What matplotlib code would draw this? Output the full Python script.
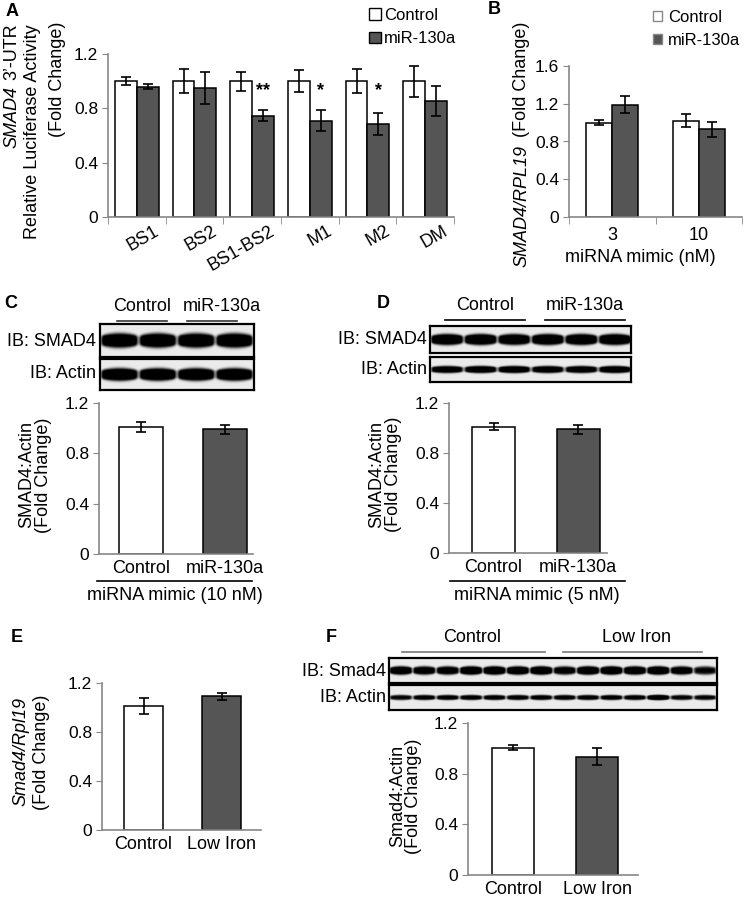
# Figura de 6 paneles: luciferasa, qPCR y western blots (SMAD4 / miR-130a)
import numpy as np
import matplotlib
matplotlib.use("Agg")
import matplotlib.pyplot as plt
from matplotlib.patches import Patch
from matplotlib.lines import Line2D
from matplotlib.transforms import ScaledTranslation

plt.rcParams['font.family'] = ['Liberation Sans', 'DejaVu Sans']

# ---------------- datos ----------------
# Panel A
a_grupos = ['BS1', 'BS2', 'BS1-BS2', 'M1', 'M2', 'DM']
a_control = [1.0, 1.0, 1.0, 1.0, 1.0, 1.0]
a_control_err = [0.03, 0.09, 0.07, 0.08, 0.09, 0.115]
a_mir = [0.96, 0.95, 0.745, 0.71, 0.685, 0.855]
a_mir_err = [0.02, 0.12, 0.04, 0.08, 0.08, 0.11]
a_estrellas = ['', '', '**', '*', '*', '']

# Panel B
b_dosis = ['3', '10']
b_control = [1.0, 1.02]
b_control_err = [0.03, 0.07]
b_mir = [1.19, 0.93]
b_mir_err = [0.09, 0.08]

# Paneles C-F (dos barras cada uno)
c_nombres = ['Control', 'miR-130a']
c_valores = [1.01, 0.99]
c_err = [0.04, 0.033]

d_nombres = ['Control', 'miR-130a']
d_valores = [1.01, 0.99]
d_err = [0.027, 0.035]

e_nombres = ['Control', 'Low Iron']
e_valores = [1.015, 1.09]
e_err = [0.065, 0.03]

f_nombres = ['Control', 'Low Iron']
f_valores = [1.005, 0.935]
f_err = [0.022, 0.07]

# Intensidad relativa de cada carril en los blots
c_smad4 = [1.0, 1.0, 1.0, 1.0]
c_actina = [1.0, 1.0, 1.0, 1.0]
d_smad4 = [1.0, 1.0, 0.95, 1.0, 1.0, 1.0]
d_actina = [0.85, 0.9, 0.9, 0.85, 0.85, 0.9]
f_smad4 = [0.95, 0.85, 0.85, 1.0, 1.0, 0.95, 1.0, 0.8, 1.0, 1.0, 0.95, 1.0, 0.85, 0.7]
f_actina = [0.7, 0.75, 0.75, 0.75, 0.75, 0.75, 0.75, 0.75, 0.75, 0.75, 0.75, 1.0, 0.7, 0.7]

# ---------------- estilo ----------------
W, H = 745, 900
GRIS = '#888888'
OSCURO = '#555555'
FS = 13        # textos
FT = 12.5      # numeros de los ejes
FL = 12        # leyendas

fig = plt.figure(figsize=(W / 100, H / 100), dpi=100)


def caja(l, t, r, b):
    # rectangulo en pixeles -> fracciones de figura
    return [l / W, 1 - b / H, (r - l) / W, (b - t) / H]


def texto(x, y, s, **kw):
    kw.setdefault('ha', 'center')
    kw.setdefault('va', 'center')
    kw.setdefault('fontsize', FS)
    fig.text(x / W, 1 - y / H, s, **kw)


def vertical_mixto(x, y, cursiva, normal, hueco=2):
    # texto vertical: parte en cursiva (abajo) y parte normal (arriba), unidas en y
    texto(x, y + hueco, cursiva, rotation=90, rotation_mode='anchor', ha='right',
          fontstyle='italic')
    texto(x, y - hueco, normal, rotation=90, rotation_mode='anchor', ha='left')


def linea(x1, x2, y, color='black', lw=1.2):
    fig.add_artist(Line2D([x1 / W, x2 / W], [1 - y / H, 1 - y / H],
                          transform=fig.transFigure, color=color, lw=lw))


def ejes_barras(rect, ylim, yticks):
    ax = fig.add_axes(rect)
    ax.spines[['top', 'right']].set_visible(False)
    for s in ['left', 'bottom']:
        ax.spines[s].set_color(GRIS)
        ax.spines[s].set_linewidth(1.2)
    ax.set_ylim(*ylim)
    ax.set_yticks(yticks)
    ax.set_yticklabels([f'{t:g}' for t in yticks])
    ax.tick_params(axis='y', length=4, color=GRIS, labelsize=FT, pad=3)
    ax.tick_params(axis='x', length=0, labelsize=FS, pad=4)
    return ax


def errores(ax, x, v, e):
    ax.errorbar(x, v, yerr=e, fmt='none', ecolor='black', elinewidth=1.2,
                capsize=3.5, capthick=1.2, zorder=3)


def blot(rect, carriles, grosor):
    ax = fig.add_axes(rect)
    n = len(carriles)
    yy = np.linspace(-1, 1, 80)[:, None]
    xx = np.linspace(0, n, 60 * n)[None, :]
    dens = np.zeros((80, 60 * n))
    for i, v in enumerate(carriles):
        dx = (xx - (i + 0.5)) / 0.5
        perfil = 1 / (1 + np.exp((np.abs(dx) - 0.92) / 0.05))
        g = grosor * (1 - 0.35 * dx ** 2).clip(0.3, 1)
        dens += v * perfil * np.exp(-(yy / g) ** 4)
    img = np.clip(0.92 - 1.3 * dens, 0, 1)
    ax.imshow(img, cmap='gray', vmin=0, vmax=1, aspect='auto',
              extent=[0, n, 0, 1], interpolation='bilinear')
    ax.set_xticks([])
    ax.set_yticks([])
    for s in ax.spines.values():
        s.set_linewidth(1.6)
        s.set_color('black')
    return ax


def dos_barras(rect, xlim, nombres, valores, err, ancho):
    ax = ejes_barras(rect, (0, 1.2), [0, 0.4, 0.8, 1.2])
    x = np.arange(len(valores))
    ax.bar(x, valores, ancho, color=['white', OSCURO], edgecolor='black', linewidth=1.1)
    errores(ax, x, valores, err)
    ax.set_xlim(*xlim)
    ax.set_xticks(x)
    ax.set_xticklabels(nombres)
    return ax


# ---------------- Panel A ----------------
axA = ejes_barras(caja(108, 54, 454, 217), (0, 1.2), [0, 0.4, 0.8, 1.2])
xa = np.arange(len(a_grupos))
axA.bar(xa - 0.19, a_control, 0.38, color='white', edgecolor='black', linewidth=1.1)
axA.bar(xa + 0.19, a_mir, 0.38, color=OSCURO, edgecolor='black', linewidth=1.1)
errores(axA, xa - 0.19, a_control, a_control_err)
errores(axA, xa + 0.19, a_mir, a_mir_err)
for i, s in enumerate(a_estrellas):
    if s:
        axA.text(xa[i] + 0.19, 0.93, s, ha='center', va='center', fontsize=13, fontweight='bold')
axA.set_xlim(-0.5, len(a_grupos) - 0.5)
axA.set_xticks(xa)
etiquetas = axA.set_xticklabels(a_grupos, rotation=30, ha='right', rotation_mode='anchor')
for et in etiquetas:
    et.set_transform(et.get_transform() + ScaledTranslation(0.17, 0, fig.dpi_scale_trans))
axA.set_xticks(np.arange(-0.5, len(a_grupos), 1), minor=True)
axA.tick_params(axis='x', which='minor', length=5, color=GRIS)
fig.legend(handles=[Patch(fc='white', ec='black'), Patch(fc=OSCURO, ec='black')],
           labels=['Control', 'miR-130a'], loc='upper left',
           bbox_to_anchor=(369 / W, 1 - 8 / H), frameon=False, fontsize=FL,
           handlelength=0.7, handleheight=0.7, handletextpad=0.2,
           labelspacing=0.5, borderpad=0, borderaxespad=0)
vertical_mixto(12, 83, 'SMAD4', '3’-UTR', hueco=3)
texto(33, 132, 'Relative Luciferase Activity', rotation=90)
texto(57, 79, '(Fold Change)', rotation=90)
texto(12, 11, 'A', fontsize=13, fontweight='bold')

# ---------------- Panel B ----------------
axB = ejes_barras(caja(569, 66, 742, 217), (0, 1.6), [0, 0.4, 0.8, 1.2, 1.6])
xb = np.arange(len(b_dosis))
axB.bar(xb - 0.15, b_control, 0.3, color='white', edgecolor='black', linewidth=1.1)
axB.bar(xb + 0.15, b_mir, 0.3, color=OSCURO, edgecolor='black', linewidth=1.1)
errores(axB, xb - 0.15, b_control, b_control_err)
errores(axB, xb + 0.15, b_mir, b_mir_err)
axB.set_xlim(-0.5, 1.5)
axB.set_xticks(xb)
axB.set_xticklabels(b_dosis)
axB.tick_params(axis='x', pad=7)
axB.set_xticks([-0.5, 0.5, 1.5], minor=True)
axB.tick_params(axis='x', which='minor', length=5, color=GRIS)
fig.legend(handles=[Patch(fc='white', ec=GRIS), Patch(fc=OSCURO, ec=GRIS)],
           labels=['Control', 'miR-130a'], loc='upper left',
           bbox_to_anchor=(653 / W, 1 - 10 / H), frameon=False, fontsize=FL,
           handlelength=0.55, handleheight=0.55, handletextpad=0.35,
           labelspacing=0.5, borderpad=0, borderaxespad=0)
vertical_mixto(522, 141, 'SMAD4/RPL19', '(Fold Change)', hueco=4)
texto(640, 258, 'miRNA mimic (nM)')
texto(494, 10, 'B', fontsize=13, fontweight='bold')

# ---------------- Panel C ----------------
blot(caja(100, 324, 254, 357), c_smad4, 0.45)
blot(caja(100, 359, 254, 390), c_actina, 0.42)
texto(96, 341, 'IB: SMAD4', ha='right')
texto(96, 373, 'IB: Actin', ha='right')
texto(142, 306, 'Control')
texto(222, 306, 'miR-130a')
linea(117, 167, 321, color='#333333')
linea(187, 237, 321, color='#333333')
dos_barras(caja(99, 403, 253, 554), (-0.5, 1.33), c_nombres, c_valores, c_err, 0.52)
linea(97, 252, 581)
texto(175, 596, 'miRNA mimic (10 nM)')
texto(27, 475, 'SMAD4:Actin', rotation=90)
texto(43, 475, '(Fold Change)', rotation=90)
texto(11, 303, 'C', fontsize=13, fontweight='bold')

# ---------------- Panel D ----------------
blot(caja(430, 326, 631, 353), d_smad4, 0.42)
blot(caja(430, 357, 631, 382), d_actina, 0.3)
texto(427, 340, 'IB: SMAD4', ha='right')
texto(427, 370, 'IB: Actin', ha='right')
texto(485, 305, 'Control')
texto(585, 305, 'miR-130a')
linea(445, 525, 320)
linea(545, 625, 320)
dos_barras(caja(449, 403, 607, 553), (-0.527, 1.34), d_nombres, d_valores, d_err, 0.51)
linea(450, 625, 581)
texto(537, 595, 'miRNA mimic (5 nM)')
texto(377, 474, 'SMAD4:Actin', rotation=90)
texto(394, 474, '(Fold Change)', rotation=90)
texto(383, 303, 'D', fontsize=13, fontweight='bold')

# ---------------- Panel E ----------------
dos_barras(caja(102, 683, 261, 830), (-0.53, 1.5), e_nombres, e_valores, e_err, 0.5)
texto(21, 752, 'Smad4/Rpl19', rotation=90, fontstyle='italic')
texto(42, 752, '(Fold Change)', rotation=90)
texto(17, 637, 'E', fontsize=13, fontweight='bold')

# ---------------- Panel F ----------------
blot(caja(389, 658, 717, 683), f_smad4, 0.35)
blot(caja(389, 685, 717, 710), f_actina, 0.22)
texto(386, 671, 'IB: Smad4', ha='right')
texto(386, 698, 'IB: Actin', ha='right')
texto(472, 637, 'Control')
texto(636, 637, 'Low Iron')
linea(402, 545, 652, color='#777777')
linea(563, 702, 652, color='#777777')
dos_barras(caja(468, 723, 638, 875), (-0.536, 1.488), f_nombres, f_valores, f_err, 0.5)
texto(398, 796, 'Smad4:Actin', rotation=90)
texto(414, 796, '(Fold Change)', rotation=90)
texto(331, 637, 'F', fontsize=13, fontweight='bold')

fig.savefig('out.png', dpi=100)
